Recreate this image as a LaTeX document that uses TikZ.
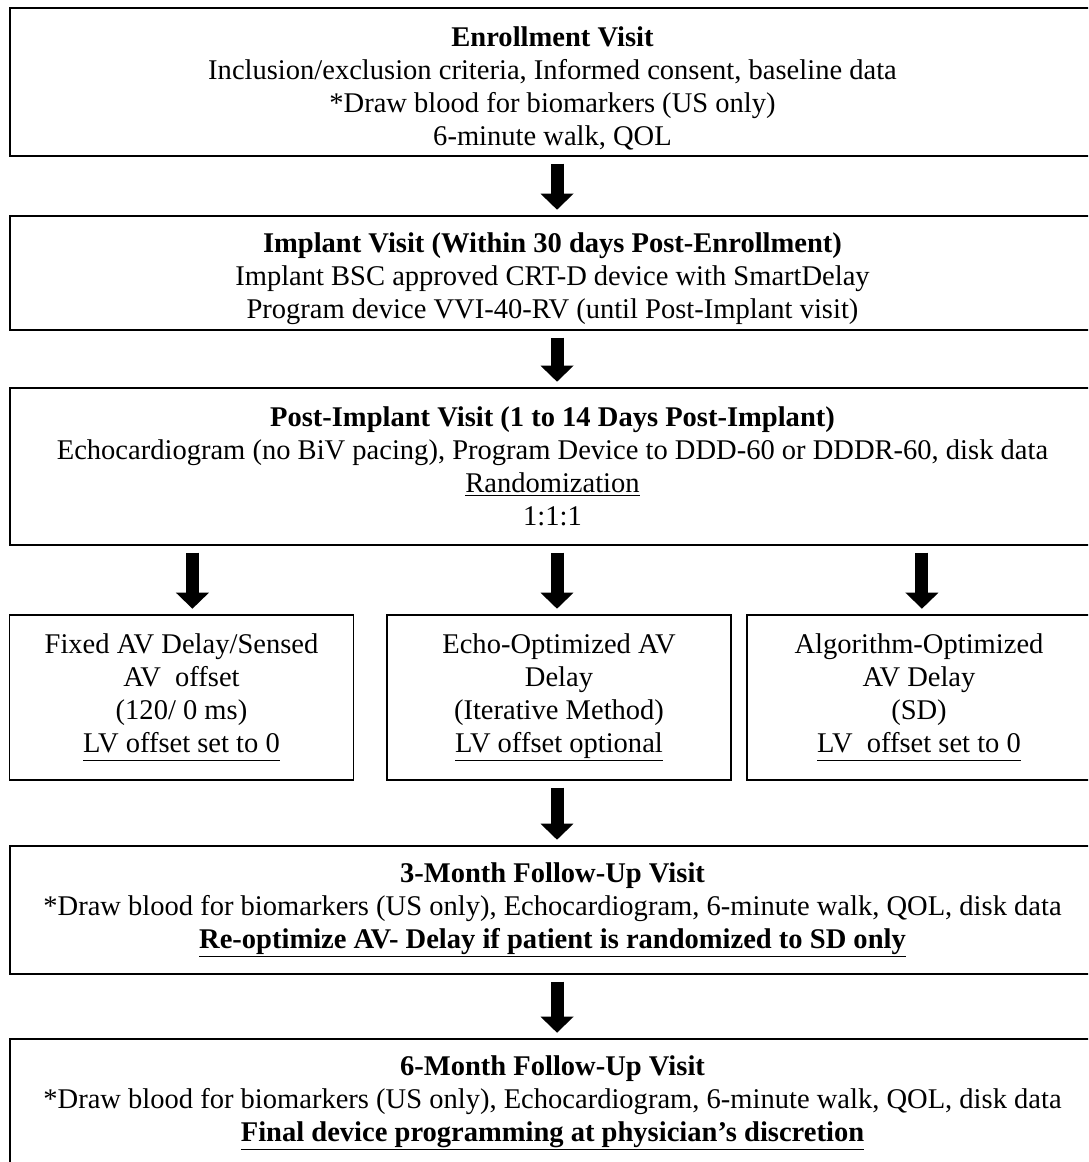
\documentclass[tikz,border=0pt]{standalone}
\usepackage{fontspec}
\setmainfont{Liberation Serif}
\usetikzlibrary{positioning,arrows.meta,calc}

\begin{document}
\begin{tikzpicture}[x=.75pt,y=-.75pt,font=\fontsize{21.4}{24.75}\selectfont,align=center,
  box/.style={draw=black,line width=1.4pt,fill=white,inner sep=0pt},
  wide/.style={box,minimum width=813.75pt},
  arm/.style={box,minimum width=258pt,minimum height=123.75pt},
  arr/.style={-{Triangle[width=24pt,length=12pt]},line width=9.75pt,draw=black,
    shorten <=5pt,shorten >=4pt}]
\useasboundingbox (0,0) rectangle (1088,1162);
\clip (0,0) rectangle (1088,1162);
\node[wide,minimum height=111pt] (enroll) at (552.5,82)
  {\rule{0pt}{24pt}\textbf{Enrollment Visit}\\Inclusion/exclusion criteria, Informed consent, baseline data\\
   *Draw blood for biomarkers (US only)\\6-minute walk, QOL};
\node[wide,minimum height=85.5pt] (implant) at (552.5,273)
  {\rule{0pt}{23pt}\textbf{Implant Visit (Within 30 days Post-Enrollment)}\\
   Implant BSC approved CRT-D device with SmartDelay\\
   Program device VVI-40-RV (until Post-Implant visit)};
\node[wide,minimum height=117.75pt] (post) at (552.5,466.5)
  {\textbf{Post-Implant Visit (1 to 14 Days Post-Implant)}\\
   Echocardiogram (no BiV pacing), Program Device to DDD-60 or DDDR-60, disk data\\
   \underline{Randomization}\\1:1:1};
\node[arm] (fixed) at (181.5,697.5)
  {Fixed AV Delay/Sensed\\AV~ offset\\(120/ 0 ms)\\\underline{LV offset set to 0\vphantom{p}}};
\node[arm] (echo) at (559,697.5)
  {Echo-Optimized AV\\Delay\\(Iterative Method)\\\underline{LV offset optional}};
\node[arm] (algo) at (919,697.5)
  {Algorithm-Optimized\\AV Delay\\(SD)\\\underline{LV~ offset set to 0\vphantom{p}}};
\node[wide,minimum height=96pt] (three) at (552.5,910)
  {\textbf{3-Month Follow-Up Visit}\\
   *Draw blood for biomarkers (US only), Echocardiogram, 6-minute walk, QOL, disk data\\
   \textbf{\underline{Re-optimize AV- Delay if patient is randomized to SD only}}};
\node[wide,minimum height=96pt] (six) at (552.5,1103)
  {\textbf{6-Month Follow-Up Visit}\\
   *Draw blood for biomarkers (US only), Echocardiogram, 6-minute walk, QOL, disk data\\
   \textbf{\underline{Final device programming at physician’s discretion}}};
% main column
\draw[arr] ([xshift=3.4pt]enroll.south)--([xshift=3.4pt]implant.north);
\draw[arr] ([xshift=3.4pt]implant.south)--([xshift=3.4pt]post.north);
% randomised arms
\draw[arr] ([xshift=8.2pt]fixed.north |- post.south)--([xshift=8.2pt]fixed.north);
\draw[arr] ([xshift=-1.5pt]echo.north |- post.south)--([xshift=-1.5pt]echo.north);
\draw[arr] ([xshift=2.2pt]algo.north |- post.south)--([xshift=2.2pt]algo.north);
\draw[arr] ([xshift=-1.5pt]echo.south)--([xshift=-1.5pt]echo.south |- three.north);
\draw[arr] ([xshift=3.4pt]three.south)--([xshift=3.4pt]six.north);
\end{tikzpicture}
\end{document}
